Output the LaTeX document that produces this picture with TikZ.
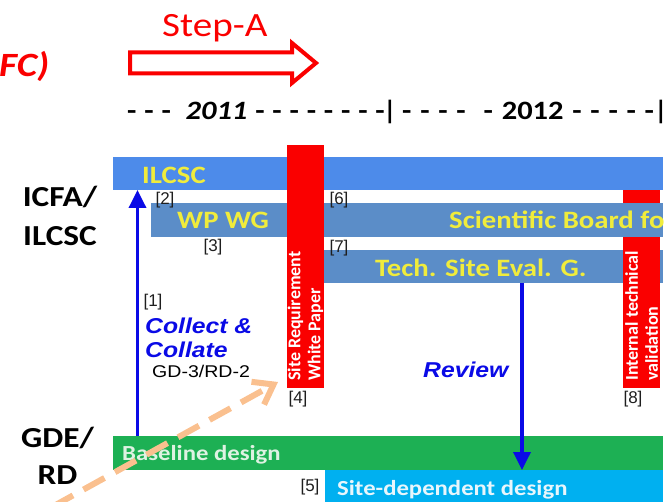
\documentclass[tikz,border=0pt]{standalone}
\usepackage{fontspec}
\setmainfont{Carlito}
\newfontfamily\arialf{Liberation Sans}
\usepackage{graphicx}
\usetikzlibrary{arrows.meta}
\definecolor{barblue}{RGB}{77,139,234}
\definecolor{steel}{RGB}{91,141,200}
\definecolor{ylw}{RGB}{240,236,60}
\definecolor{grn}{RGB}{29,176,84}
\definecolor{cyn}{RGB}{0,176,240}
\definecolor{arblue}{RGB}{10,10,230}
\definecolor{orng}{RGB}{250,192,143}
\definecolor{redc}{RGB}{250,0,0}
\definecolor{paleg}{RGB}{222,242,226}
\definecolor{palec}{RGB}{232,246,252}
\definecolor{lblgray}{RGB}{30,30,30}
\newcommand{\hs}[1]{\scalebox{1.15}[1]{#1}}
\newcommand{\fsz}[1]{\fontsize{#1}{#1}\selectfont}
\begin{document}
\begin{tikzpicture}[x=1pt,y=-1pt,
  bar/.style={draw=none, inner sep=0pt, outer sep=0pt, anchor=north west},
  bartxt/.style={anchor=base west, inner sep=0pt, text=ylw, font=\bfseries\fsz{25}},
  sidelbl/.style={anchor=base, inner sep=0pt, font=\bfseries\fsz{29}},
  reflbl/.style={inner sep=0pt, text=lblgray, font=\arialf\fsz{17}},
  redtxt/.style={rotate=90, anchor=west, align=left, inner sep=0pt, text=white, font=\bfseries\fontsize{18}{20}\selectfont},
  barrow/.style={draw=arblue, line width=3.5pt, -{Triangle[length=18pt,width=17pt]}},
  timetxt/.style={anchor=base west, inner sep=0pt, font=\bfseries\fsz{26.5}},
  bluetxt/.style={anchor=base west, inner sep=0pt, text=arblue, font=\arialf\bfseries\itshape\fsz{21.5}}
]
\useasboundingbox (0,0) rectangle (666,502);
\clip (0,0) rectangle (666,502);

% header
\node[anchor=base west, inner sep=0pt, text=redc, font=\bfseries\itshape\fsz{34}] (fc) at (-1,77) {\hs{FC)}};
\node[anchor=base west, inner sep=0pt, text=redc, font=\fsz{34}] (stepa) at (162,37) {\hs{Step-A}};
\draw[redc, line width=4pt, line join=miter] (130,52.5) -- (292,52.5) -- (292,43) -- (316,63) -- (292,83) -- (292,73.5) -- (130,73.5) -- cycle;

% timeline
\node[timetxt] (t1) at (127,120) {\hs{\makebox[224pt][s]{- - -\hspace{6pt} \textit{2011} - - - - - - - -}}};
\node[timetxt, anchor=base] (tb1) at (390,120) {|};
\node[timetxt] (t2) at (402,120) {\hs{\makebox[219pt][s]{- - - -\hspace{8pt} - 2012 - - - - -}}};
\node[timetxt, anchor=base] (tb2) at (661,120) {|};

% side labels
\node[sidelbl] (icfa) at (60,207) {\hs{ICFA/}};
\node[sidelbl] (ilcsclbl) at (60,246) {\hs{ILCSC}};
\node[sidelbl] (gde) at (57.5,447) {\hs{GDE/}};
\node[sidelbl] (rd) at (57.5,484) {\hs{RD}};

% bars
\node[bar, fill=steel, minimum width=339pt, minimum height=33pt] (tech) at (324,250) {};
\node[bar, fill=redc, minimum width=37pt, minimum height=231pt] (red2) at (623,157) {};
\node[bar, fill=barblue, minimum width=550pt, minimum height=33pt] (ilcsc) at (113,157) {};
\node[bar, fill=steel, minimum width=512pt, minimum height=34pt] (wpwg) at (151,203) {};
\node[bar, fill=grn, minimum width=550pt, minimum height=34pt] (base) at (113,436) {};
\node[bar, fill=cyn, minimum width=338pt, minimum height=32pt] (site) at (325,470) {};
\node[bar, fill=redc, minimum width=37pt, minimum height=243pt] (red1) at (287,145) {};

% bar texts
\node[bartxt] (ilcsctxt) at (142,184) {\hs{ILCSC}};
\node[bartxt] (wpwgtxt) at (177,229) {\hs{WP WG}};
\begin{scope}
  \clip (wpwg.north west) rectangle (wpwg.south east);
  \node[bartxt] (sbtxt) at (449,229) {\hs{Scientific Board fo}};
\end{scope}
\node[bartxt] (techtxt) at (375,277) {\hs{Tech. Site Eval. G.}};
\node[bartxt, text=paleg, font=\bfseries\fsz{21.5}] (basetxt) at (122,460) {\hs{Baseline design}};
\node[bartxt, text=palec, font=\bfseries\fsz{21.5}] (sitetxt) at (337,495) {\hs{Site-dependent design}};
\node[redtxt] (r1txt) at (305.5,381) {Site Requirement\\White Paper};
\node[redtxt] (r2txt) at (641.5,381) {Internal technical\\validation};

% arrows
\coordinate (a1s) at (137.5,436);
\draw[barrow] (a1s) -- (a1s |- ilcsc.south);
\coordinate (a2s) at (522,283);
\draw[barrow] (a2s |- tech.south) -- (a2s |- site.north);

% blue texts
\node[bluetxt] (cc1) at (145,333) {\hs{Collect \&}};
\node[bluetxt] (cc2) at (145,357) {\hs{Collate}};
\node[anchor=base west, inner sep=0pt, font=\arialf\fsz{17}] (gd) at (152,377) {\hs{GD-3/RD-2}};
\node[bluetxt] (review) at (423,377) {\hs{Review}};

% reference labels
\node[reflbl] (l1) at (153,302) {[1]};
\node[reflbl] (l2) at (165,200) {[2]};
\node[reflbl] (l3) at (213,247) {[3]};
\node[reflbl] (l4) at (298,399) {[4]};
\node[reflbl] (l5) at (310,487) {[5]};
\node[reflbl] (l6) at (339,200) {[6]};
\node[reflbl] (l7) at (339,248) {[7]};
\node[reflbl] (l8) at (633,399) {[8]};

% orange dashed arrow
\coordinate (o1) at (52,507);
\coordinate (o2) at (278,382);
\draw[orng, line width=6pt, dash pattern=on 24pt off 12pt, -{Straight Barb[length=18pt,width=26pt]}] (o1) -- (o2);
\end{tikzpicture}
\end{document}
